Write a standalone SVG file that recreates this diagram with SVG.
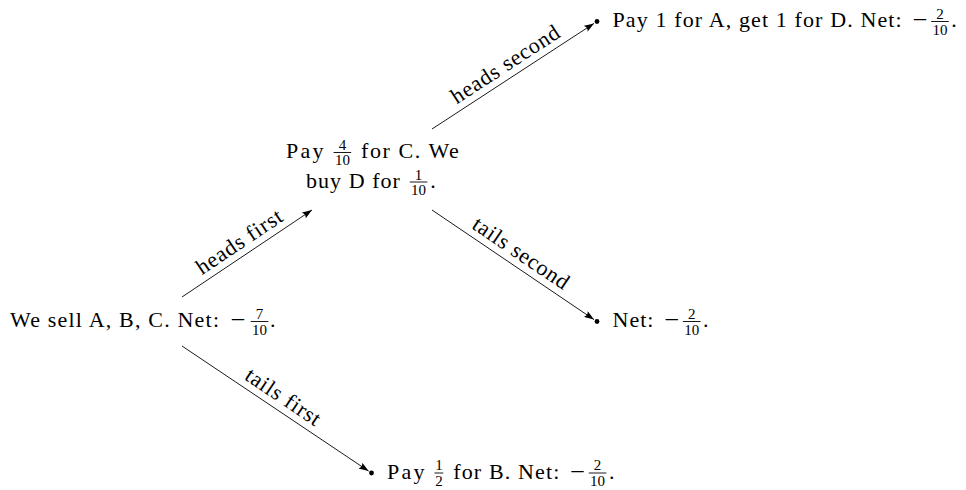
<svg xmlns="http://www.w3.org/2000/svg" width="966" height="490" viewBox="0 0 966 490">
<style>
text { font-family: "Liberation Serif", "Times New Roman", serif; fill: #000; }
.t { font-size: 22px; }
.f { font-size: 15px; text-anchor: middle; }
.lbl { font-size: 22px; text-anchor: middle; }
.bar { stroke: #000; stroke-width: 0.9; }
.edge { stroke: #000; stroke-width: 0.9; fill: none; marker-end: url(#arr); }
.dot { fill: #000; }
</style>
<defs>
<marker id="arr" viewBox="0 0 10 7" refX="10" refY="3.5" markerWidth="10" markerHeight="7" markerUnits="userSpaceOnUse" orient="auto">
<path d="M0,0 Q3,3.5 0,7 L10,3.5 z" fill="#000"/>
</marker>
</defs>
<rect width="966" height="490" fill="#fff"/>

<g id="connectors">
<path class="edge" d="M182,297 L312,210"/>
<path class="edge" d="M182,346 L368.6,471.1"/>
<path class="edge" d="M432,129 L594,23.4"/>
<path class="edge" d="M432,210 L594,319.6"/>
<g transform="translate(247,253.5) rotate(-33.79)"><text class="lbl" x="0" y="-7" textLength="99" lengthAdjust="spacing">heads first</text></g>
<g transform="translate(275.3,408.55) rotate(33.84)"><text class="lbl" x="0" y="-7" textLength="86" lengthAdjust="spacing">tails first</text></g>
<g transform="translate(513,76.2) rotate(-33.1)"><text class="lbl" x="0" y="-7" textLength="125" lengthAdjust="spacing">heads second</text></g>
<g transform="translate(513,264.8) rotate(34.08)"><text class="lbl" x="0" y="-7" textLength="111.5" lengthAdjust="spacing">tails second</text></g>
</g>

<g id="node-root">
<text class="t" x="10" y="327" textLength="209" lengthAdjust="spacing">We sell A, B, C. Net:</text>
<text class="t" x="230.5" y="327" textLength="15" lengthAdjust="spacingAndGlyphs">−</text>
<text class="f" x="259.5" y="318.5">7</text>
<line class="bar" x1="250.7" y1="321.5" x2="268.3" y2="321.5"/>
<text class="f" x="259.5" y="334.5">10</text>
<text class="t" x="270" y="327">.</text>
</g>

<g id="node-mid">
<text class="t" x="286" y="158" textLength="37.6" lengthAdjust="spacing">Pay</text>
<text class="f" x="342.4" y="149.5">4</text>
<line class="bar" x1="333.6" y1="152.5" x2="351.2" y2="152.5"/>
<text class="f" x="342.4" y="164.6">10</text>
<text class="t" x="361" y="158" textLength="97.8" lengthAdjust="spacing">for C. We</text>
<text class="t" x="306" y="187.5" textLength="93.9" lengthAdjust="spacing">buy D for</text>
<text class="f" x="418.6" y="179.5">1</text>
<line class="bar" x1="409.8" y1="182" x2="427.4" y2="182"/>
<text class="f" x="418.6" y="194.8">10</text>
<text class="t" x="430.2" y="187.5">.</text>
</g>

<g id="node-heads-heads">
<circle class="dot" cx="597" cy="21.5" r="2.4"/>
<text class="t" x="612.5" y="27" textLength="289.2" lengthAdjust="spacing">Pay 1 for A, get 1 for D. Net:</text>
<text class="t" x="912.5" y="27" textLength="15" lengthAdjust="spacingAndGlyphs">−</text>
<text class="f" x="940" y="18.5">2</text>
<line class="bar" x1="931.2" y1="21.5" x2="948.8" y2="21.5"/>
<text class="f" x="940" y="34.5">10</text>
<text class="t" x="951.3" y="27">.</text>
</g>

<g id="node-heads-tails">
<circle class="dot" cx="597" cy="321.5" r="2.4"/>
<text class="t" x="612.5" y="327" textLength="40.9" lengthAdjust="spacing">Net:</text>
<text class="t" x="664.2" y="327" textLength="15" lengthAdjust="spacingAndGlyphs">−</text>
<text class="f" x="691.7" y="318.5">2</text>
<line class="bar" x1="682.9" y1="321.5" x2="700.5" y2="321.5"/>
<text class="f" x="691.7" y="334.5">10</text>
<text class="t" x="703" y="327">.</text>
</g>

<g id="node-tails">
<circle class="dot" cx="371.5" cy="473" r="2.4"/>
<text class="t" x="387" y="478.5" textLength="37.6" lengthAdjust="spacing">Pay</text>
<text class="f" x="438.9" y="470">1</text>
<line class="bar" x1="434.5" y1="473" x2="443.3" y2="473"/>
<text class="f" x="438.9" y="486">2</text>
<text class="t" x="453.2" y="478.5" textLength="106.1" lengthAdjust="spacing">for B. Net:</text>
<text class="t" x="570.1" y="478.5" textLength="15" lengthAdjust="spacingAndGlyphs">−</text>
<text class="f" x="597.6" y="470">2</text>
<line class="bar" x1="588.8" y1="473" x2="606.4" y2="473"/>
<text class="f" x="597.6" y="486">10</text>
<text class="t" x="609" y="478.5">.</text>
</g>
</svg>
